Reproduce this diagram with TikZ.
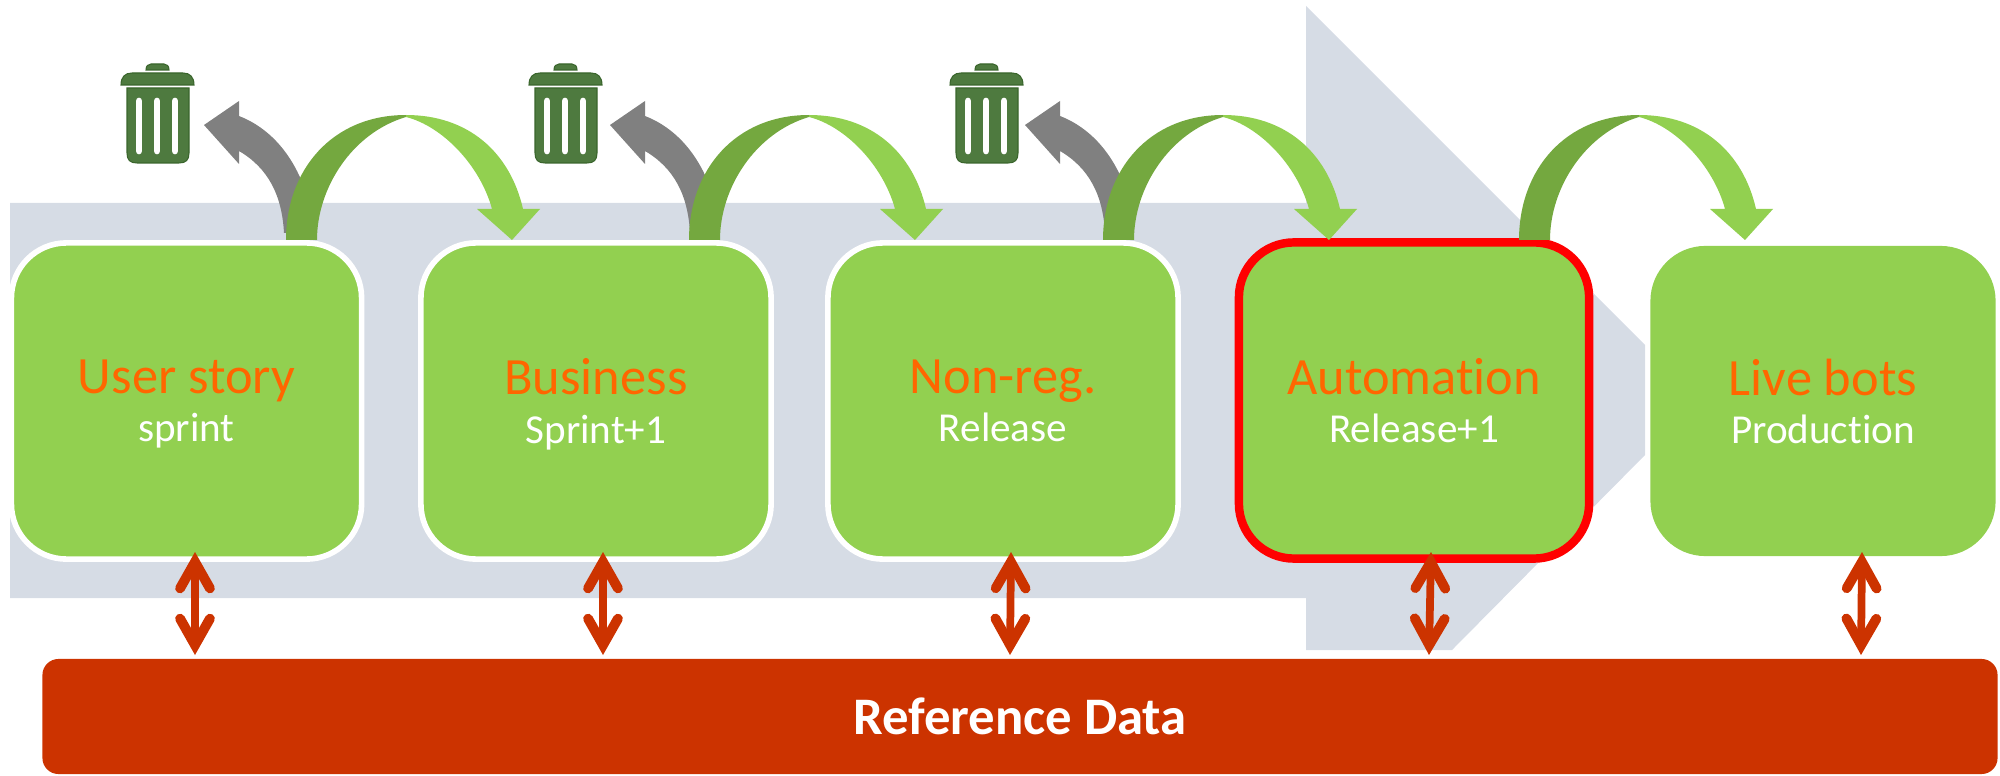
\documentclass[tikz,border=0pt]{standalone}
\usepackage{fontspec}
\setmainfont[RawFeature={-liga;-clig;-calt;-dlig}]{Carlito}
\usetikzlibrary{arrows.meta}

\definecolor{flowblue}{HTML}{D6DCE5}
\definecolor{boxgreen}{HTML}{92D050}
\definecolor{hopgreen}{HTML}{74A83F}
\definecolor{bingreen}{HTML}{4E7A3F}
\definecolor{binedge}{HTML}{3A652C}
\definecolor{titleorange}{HTML}{FF6600}
\definecolor{datared}{HTML}{CC3300}

\newcommand{\stagetext}[2]{{\fontsize{14.9pt}{13.7pt}\selectfont\textcolor{titleorange}{#1}}\\\smash{#2}}

\tikzset{
  stage/.style={rectangle, rounded corners=0.55cm, fill=boxgreen, inner sep=0pt, align=center,
    minimum width=3.5cm, minimum height=3.16cm, text=white,
    font=\fontsize{11.7pt}{13.7pt}\selectfont},
  plain stage/.style={stage, draw=white, line width=1.6pt},
  linktip/.tip={Straight Barb[length=7.5pt, width=8.5pt, line width=2.8pt, line cap=round, line join=miter]},
  link/.style={draw=datared, line width=2.2pt, linktip-linktip},
  hop/.pic={
    \fill[hopgreen] (286,240) .. controls (286,170) and (332,115) .. (406,115)
      -- (406,117) .. controls (352,133) and (317,188) .. (317,240) -- cycle;
    \fill[boxgreen] (406,115) .. controls (468,115) and (510,152) .. (523,209)
      -- (540,209) -- (512,240) -- (477,209) -- (492,209)
      .. controls (480,165) and (442,126) .. (406,117) -- cycle;
  },
  drop/.pic={
    \fill[gray] (204,125) -- (239,101) -- (239,116)
      .. controls (270,128) and (293,155) .. (305,190) -- (302,233) -- (284,233)
      .. controls (282,195) and (268,168) .. (239,151) -- (239,164) -- cycle;
  },
  bin/.pic={
    \fill[bingreen, draw=binedge, line width=0.3pt] (-11,70) .. controls (-11,66) and (-9,64) .. (-6,64)
      -- (7,64) .. controls (10,64) and (12,66) .. (12,70) -- cycle;
    \fill[bingreen, draw=binedge, line width=0.3pt] (-36,85) .. controls (-36,77) and (-32,73) .. (-25,73)
      -- (26,73) .. controls (33,73) and (37,77) .. (37,85) -- cycle;
    \fill[bingreen, draw=binedge, line width=0.3pt] (-30,88) -- (32,88) -- (32,153) .. controls (32,160) and (29,163) .. (22,163)
      -- (-20,163) .. controls (-27,163) and (-30,160) .. (-30,153) -- cycle;
    \draw[white, line width=1.9pt, line cap=round] (-18,101) -- (-18,151);
    \draw[white, line width=1.9pt, line cap=round] (0,101) -- (0,151);
    \draw[white, line width=1.9pt, line cap=round] (18,101) -- (18,151);
  }
}

\begin{document}
\begin{tikzpicture}[x=0.01cm, y=-0.01cm]
\useasboundingbox (0,0) rectangle (2000,776);

\fill[flowblue] (10,203) -- (1306,203) -- (1306,6) -- (1645,345) -- (1645,455)
  -- (1452,650) -- (1306,650) -- (1306,598) -- (10,598) -- cycle;

\pic (D1) at (0,0) {drop};
\pic (D2) at (406,0) {drop};
\pic (D3) at (821,0) {drop};
\pic (T1) at (157,0) {bin};
\pic (T2) at (565,0) {bin};
\pic (T3) at (986,0) {bin};

\node[plain stage] (S1) at (186.5,401) {\stagetext{User story}{sprint}};
\node[plain stage] (S2) at (596,401) {\stagetext{Business}{Sprint+1}};
\node[plain stage] (S3) at (1003,401) {\stagetext{Non-reg.}{Release}};
\node[stage, draw=red, line width=2.4pt] (S4) at (1414,400.5) {\stagetext{Automation}{Release+1}};
\node[stage, minimum width=3.45cm, minimum height=3.1cm] (S5) at (1823,401) {\stagetext{Live bots}{Production}};

\pic (H1) at (0,0) {hop};
\pic (H2) at (403,0) {hop};
\pic (H3) at (817,0) {hop};
\pic (H4) at (1233,0) {hop};

\node[rectangle, rounded corners=0.16cm, fill=datared, text=white, inner sep=0pt,
  minimum width=19.54cm, minimum height=1.15cm,
  font=\fontsize{15pt}{16pt}\selectfont\bfseries] (R1) at (1020,716.5) {\raisebox{-1.1pt}{Reference Data}};

\coordinate (U1) at (195,552);
\coordinate (U2) at (603,552);
\coordinate (U3) at (1011,552);
\coordinate (U4) at (1431,552);
\coordinate (U5) at (1862,552);
\coordinate (L1) at (195,655);
\coordinate (L2) at (603,655);
\coordinate (L3) at (1010,655);
\coordinate (L4) at (1429,655);
\coordinate (L5) at (1861,655);
\draw[link] (U1) -- (L1);
\draw[link] (U2) -- (L2);
\draw[link] (U3) -- (L3);
\draw[link] (U4) -- (L4);
\draw[link] (U5) -- (L5);
\end{tikzpicture}
\end{document}
